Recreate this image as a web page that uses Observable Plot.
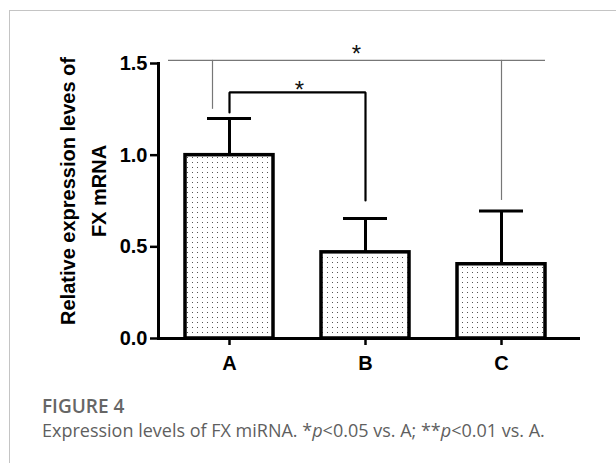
<!DOCTYPE html>
<html>
<head>
<meta charset="utf-8">
<script src="https://cdn.jsdelivr.net/npm/d3@7"></script>
<script src="https://cdn.jsdelivr.net/npm/@observablehq/plot@0.6"></script>
<style>
  html, body { margin: 0; padding: 0; background: #fff; }
  #wrap { position: relative; width: 616px; height: 463px; overflow: hidden; }
  #border { position: absolute; left: 9px; top: 10px; right: 0; bottom: 0; border-left: 1px solid #c4c4c4; border-top: 1.5px solid #c4c4c4; }
  #chart { position: absolute; left: 0; top: 0; }
  .cap { position: absolute; left: 42px; font-family: "Open Sans", "Lato", sans-serif; color: #5f5f5f; white-space: nowrap; }
  #figlabel { top: 397px; font-size: 19px; line-height: 19px; font-weight: 600; color: #666; }
  #figtext { top: 421px; font-size: 18px; line-height: 18px; }
</style>
</head>
<body>
<div id="wrap">
  <div id="border"></div>
  <div id="chart"></div>
  <div class="cap" id="figlabel">FIGURE 4</div>
  <div class="cap" id="figtext">Expression levels of FX miRNA. *<i>p</i>&lt;0.05 vs. A; **<i>p</i>&lt;0.01 vs. A.</div>
</div>
<script>
// ---- data ----
const groups = ["A", "B", "C"];
const means = [1.00, 0.47, 0.405];
const sds = [0.20, 0.185, 0.29];
const yTicks = [0, 0.5, 1.0, 1.5];

// significance brackets
const bracketFrom = ["A", "A"];
const bracketTo = ["B", "C"];
const bracketTop = [1.342, 1.517];
const bracketLeftEnd = [1.233, 1.25];
const bracketRightEnd = [0.753, 0.753];
const bracketLabels = ["*", "*"];

const data = groups.map((g, i) => ({group: g, mean: means[i], upper: means[i] + sds[i]}));

// inner bracket (A vs B) as a polyline
const innerLine = [
  {x: bracketFrom[0], y: bracketLeftEnd[0]},
  {x: bracketFrom[0], y: bracketTop[0]},
  {x: bracketTo[0], y: bracketTop[0]},
  {x: bracketTo[0], y: bracketRightEnd[0]}
];

const FONT = "'Liberation Sans', Arial, sans-serif";

const chart = Plot.plot({
  width: 616,
  height: 385,
  marginLeft: 158,
  marginRight: 38,
  marginTop: 63,
  marginBottom: 47,
  style: {fontFamily: FONT, fontSize: "20px", fontWeight: "bold", background: "transparent", overflow: "visible"},
  x: {domain: groups, paddingInner: 0.35, paddingOuter: 0.208, align: 0.447, label: null},
  y: {domain: [0, 1.5], label: null},
  marks: [
    Plot.barY(data, {x: "group", y: "mean", fill: "url(#dots)", stroke: "black", strokeWidth: 3.5}),
    Plot.ruleX(data, {x: "group", y1: "mean", y2: "upper", stroke: "black", strokeWidth: 3}),
    Plot.tickY(data, {x: "group", y: "upper", stroke: "black", strokeWidth: 3, insetLeft: 22, insetRight: 22}),
    // inner bracket
    Plot.line(innerLine, {x: "x", y: "y", stroke: "black", strokeWidth: 2.2, strokeLinejoin: "miter", curve: "linear"}),
    // outer bracket
    Plot.ruleX([0], {x: () => bracketFrom[1], y1: () => bracketLeftEnd[1], y2: () => bracketTop[1], dx: -17, stroke: "#777", strokeWidth: 1.2}),
    Plot.ruleY([0], {y: () => bracketTop[1], x1: () => bracketFrom[1], x2: () => bracketTo[1], insetLeft: -17, stroke: "#777", strokeWidth: 1.2}),
    Plot.ruleX([0], {x: () => bracketTo[1], y1: () => bracketRightEnd[1], y2: () => bracketTop[1], stroke: "#777", strokeWidth: 1.2}),
    // stars
    Plot.text([0], {x: () => bracketFrom[0], y: () => bracketTop[0], text: () => bracketLabels[0], dx: 70, dy: -2, fontSize: 24, fontWeight: "normal", fill: "#111"}),
    Plot.text([0], {x: () => "B", y: () => bracketTop[1], text: () => bracketLabels[1], dx: -9, dy: -6, fontSize: 24, fontWeight: "normal", fill: "#111"}),
    // axes
    Plot.axisY({ticks: yTicks, tickFormat: d3.format(".1f"), tickSize: 8, tickPadding: 3, strokeWidth: 2.5, label: null, fontSize: 20, fontWeight: "bold", fontFamily: FONT}),
    Plot.axisX({tickSize: 7, tickPadding: 10, strokeWidth: 2.5, label: null, fontSize: 20, fontWeight: "bold", fontFamily: FONT}),
    Plot.frame({anchor: "left", stroke: "black", strokeWidth: 3}),
    Plot.frame({anchor: "bottom", stroke: "black", strokeWidth: 3}),
    // y-axis title
    Plot.text([0], {frameAnchor: "left", text: () => "Relative expression leves of\nFX mRNA", rotate: -90, textAnchor: "middle", lineAnchor: "middle", dx: -78, dy: -10, lineHeight: 1.55, fontSize: 20, fontWeight: "bold", fontFamily: FONT, fill: "black"})
  ]
});

// dotted pattern for bar fill
const ns = "http://www.w3.org/2000/svg";
const defs = document.createElementNS(ns, "defs");
const pat = document.createElementNS(ns, "pattern");
pat.setAttribute("id", "dots");
pat.setAttribute("width", "5");
pat.setAttribute("height", "5");
pat.setAttribute("patternUnits", "userSpaceOnUse");
const bg = document.createElementNS(ns, "rect");
bg.setAttribute("width", "5"); bg.setAttribute("height", "5"); bg.setAttribute("fill", "white");
const dot = document.createElementNS(ns, "rect");
dot.setAttribute("x", "2"); dot.setAttribute("y", "2"); dot.setAttribute("width", "1"); dot.setAttribute("height", "1"); dot.setAttribute("fill", "#555");
pat.appendChild(bg); pat.appendChild(dot); defs.appendChild(pat);
chart.insertBefore(defs, chart.firstChild);

document.getElementById("chart").appendChild(chart);
</script>
</body>
</html>
